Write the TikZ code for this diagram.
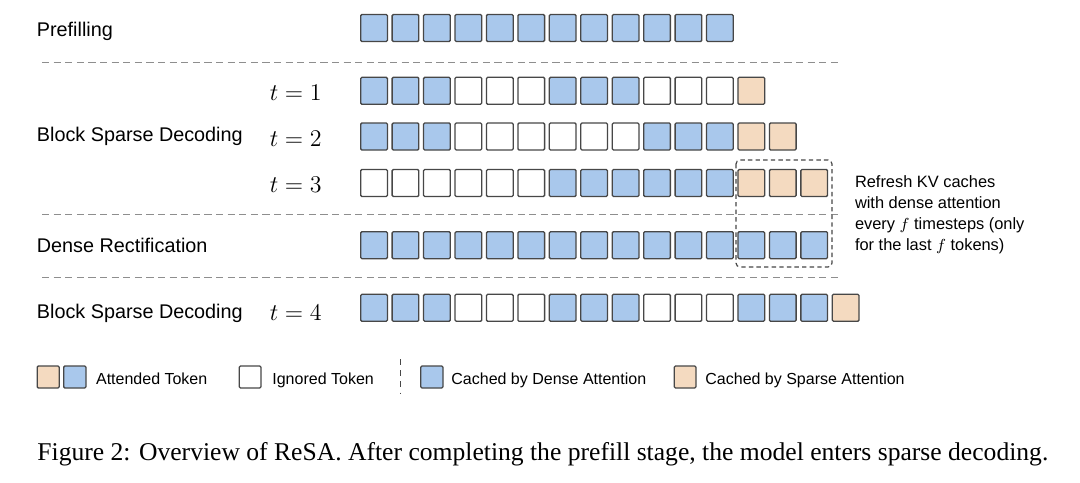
\documentclass[tikz,border=0pt]{standalone}
\usepackage{fontspec}
\setmainfont{Liberation Sans}
\newfontfamily\capfont{Liberation Serif}
\definecolor{tokb}{HTML}{A9C8EC}
\definecolor{tokp}{HTML}{F4DAC0}
\definecolor{tokw}{HTML}{FFFFFF}
\definecolor{tokedge}{HTML}{474747}
\definecolor{sepgray}{HTML}{8E8E8E}
\tikzset{
  tok/.style={draw=tokedge, line width=0.65pt, rounded corners=0.6pt},
  sepline/.style={draw=sepgray, line width=0.65pt, dash pattern=on 3.6pt off 2.2pt},
  boxdash/.style={draw=tokedge, line width=0.6pt, rounded corners=2pt, dash pattern=on 2.2pt off 1.6pt},
  lbl/.style={anchor=base west, inner sep=0pt, font=\fontsize{9.9}{12}\selectfont},
  tlbl/.style={anchor=base east, inner sep=0pt, font=\fontsize{11.5}{13}\selectfont},
  leg/.style={anchor=base west, inner sep=0pt, font=\fontsize{8}{10}\selectfont},
  note/.style={anchor=north west, inner sep=0pt, align=left, font=\fontsize{8.2}{10.45}\selectfont},
}
% one row of tokens: \tokrow{top y}{b/w/p list}
\def\tokrow#1#2{\foreach \kind [count=\i from 0] in {#2} \draw[tok, fill=tok\kind] ({360.7+31.44*\i}, #1) rectangle ++(26.7, 27);}

\begin{document}
\begin{tikzpicture}[x=0.5pt, y=-0.5pt]
			%%%%% START %%%%%
			\useasboundingbox (0, 0) rectangle (1080, 482);
			
			% prefill
			\node[lbl] (prefill) at (36.5, 36) {Prefilling};
			\tokrow{14.5}{b,b,b,b,b,b,b,b,b,b,b,b}
			
			\draw[sepline] (42, 62.5) -- (839, 62.5);
			
			% sparse decoding steps
			\node[lbl] (sparse) at (36.5, 141.7) {Block Sparse Decoding};
			\node[tlbl] (t1) at (322, 100) {$t = 1$};
			\node[tlbl] (t2) at (322, 146) {$t = 2$};
			\node[tlbl] (t3) at (322, 192.5) {$t = 3$};
			\tokrow{77.3}{b,b,b,w,w,w,b,b,b,w,w,w,p}
			\tokrow{123}{b,b,b,w,w,w,w,w,w,b,b,b,p,p}
			\tokrow{169.5}{w,w,w,w,w,w,b,b,b,b,b,b,p,p,p}
			
			\draw[sepline] (42, 214.3) -- (839, 214.3);
			
			% rectification
			\node[lbl] (dense) at (36.5, 252.7) {Dense Rectification};
			\tokrow{231.7}{b,b,b,b,b,b,b,b,b,b,b,b,b,b,b}
			
			\draw[sepline] (42, 277.7) -- (839, 277.7);
			
			\node[lbl] (sparse2) at (36.5, 318.3) {Block Sparse Decoding};
			\node[tlbl] (t4) at (322, 320) {$t = 4$};
			\tokrow{294.3}{b,b,b,w,w,w,b,b,b,w,w,w,b,b,b,p}
			
			% refresh box + note
			\draw[boxdash] (736, 160) rectangle (832, 267);
			\node[note] (refresh) at (854.6, 175.5) {Refresh KV caches\\with dense attention\\every $f$ timesteps (only\\for the last $f$ tokens)};
			
			% legend
			\draw[tok, fill=tokp] (37.2, 366) rectangle (59.2, 388);
			\draw[tok, fill=tokb] (63.7, 366) rectangle (86, 388);
			\node[leg] (attended) at (95.7, 384) {Attended Token};
			\draw[tok, fill=tokw] (239.3, 366) rectangle (261, 388);
			\node[leg] (ignored) at (272, 384) {Ignored Token};
			\draw[draw=tokedge, line width=0.6pt, dash pattern=on 3pt off 2.6pt] (400.5, 359) -- (400.5, 393);
			\draw[tok, fill=tokb] (420.8, 366) rectangle (443, 388);
			\node[leg] (cdense) at (451, 384) {Cached by Dense Attention};
			\draw[tok, fill=tokp] (674.3, 366) rectangle (696, 388);
			\node[leg] (csparse) at (705, 384) {Cached by Sparse Attention};
			
			% caption
			\node[anchor=base west, inner sep=0pt, font=\capfont\fontsize{12.8}{15}\selectfont] (caption) at (37, 460) {Figure 2: Overview of ReSA. After completing the prefill stage, the model enters sparse decoding.};
			
			%%%%% END %%%%%
		\end{tikzpicture}
\end{document}
